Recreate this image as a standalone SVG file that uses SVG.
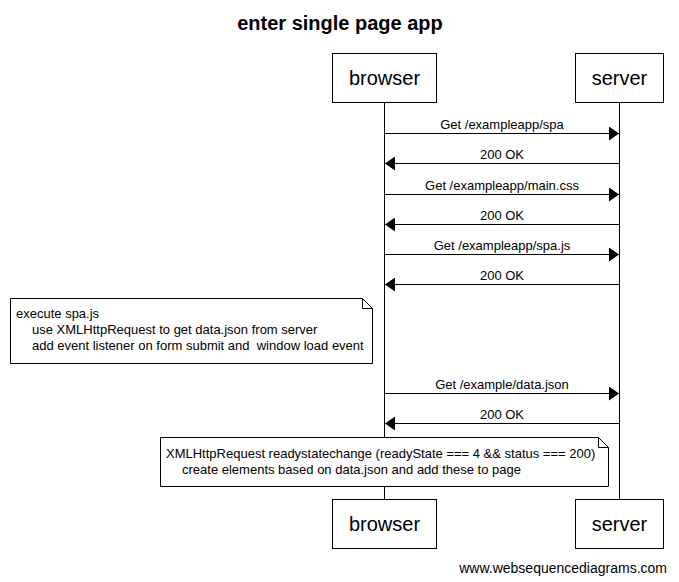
<svg xmlns="http://www.w3.org/2000/svg" width="679" height="582" viewBox="0 0 679 582">
<style>
text{font-family:"Liberation Sans",Arial,sans-serif;fill:#000;white-space:pre}
.title{font-size:20px;font-weight:bold;text-anchor:middle}
.part{font-size:20px;text-anchor:middle}
.msg{font-size:13px;text-anchor:middle}
.note{font-size:13px}
.box{fill:#fff;stroke:#000;stroke-width:1}
.life{stroke:#000;stroke-width:1}
.arr{stroke:#000;stroke-width:1;fill:none}
.wm{font-size:14px;text-anchor:end}
</style>
<defs>
<marker id="ah" viewBox="0 0 10 14" refX="10" refY="7" markerWidth="10" markerHeight="14" markerUnits="userSpaceOnUse" orient="auto">
<path d="M0,0 L10,7 L0,14 Z" fill="#000"/>
</marker>
</defs>
<rect width="679" height="582" fill="#fff"/>
<text class="title" x="340" y="30">enter single page app</text>
<g id="lifelines">
<line class="life" x1="384.5" y1="102" x2="384.5" y2="499"/>
<line class="life" x1="619.5" y1="102" x2="619.5" y2="499"/>
</g>
<g id="browser-top"><rect class="box" x="332.5" y="53.5" width="104" height="49"/><text class="part" x="384.5" y="85">browser</text></g>
<g id="server-top"><rect class="box" x="575.5" y="53.5" width="88" height="49"/><text class="part" x="619.5" y="85">server</text></g>
<g id="browser-bottom"><rect class="box" x="332.5" y="499.5" width="104" height="49"/><text class="part" x="384.5" y="531">browser</text></g>
<g id="server-bottom"><rect class="box" x="575.5" y="499.5" width="88" height="49"/><text class="part" x="619.5" y="531">server</text></g>
<g id="connectors">
<line class="arr" x1="384.5" y1="133.5" x2="619" y2="133.5" marker-end="url(#ah)"/>
<text class="msg" x="502" y="129">Get /exampleapp/spa</text>
<line class="arr" x1="619.5" y1="163.5" x2="385" y2="163.5" marker-end="url(#ah)"/>
<text class="msg" x="502" y="159">200 OK</text>
<line class="arr" x1="384.5" y1="194.5" x2="619" y2="194.5" marker-end="url(#ah)"/>
<text class="msg" x="502" y="190">Get /exampleapp/main.css</text>
<line class="arr" x1="619.5" y1="224.5" x2="385" y2="224.5" marker-end="url(#ah)"/>
<text class="msg" x="502" y="220">200 OK</text>
<line class="arr" x1="384.5" y1="254.5" x2="619" y2="254.5" marker-end="url(#ah)"/>
<text class="msg" x="502" y="250">Get /exampleapp/spa.js</text>
<line class="arr" x1="619.5" y1="284.5" x2="385" y2="284.5" marker-end="url(#ah)"/>
<text class="msg" x="502" y="280">200 OK</text>
<line class="arr" x1="384.5" y1="393.5" x2="619" y2="393.5" marker-end="url(#ah)"/>
<text class="msg" x="502" y="389">Get /example/data.json</text>
<line class="arr" x1="619.5" y1="423.5" x2="385" y2="423.5" marker-end="url(#ah)"/>
<text class="msg" x="502" y="419">200 OK</text>
</g>
<g id="note1">
<path class="box" d="M10.5,298.5 H362.5 L372.5,308.5 V363.5 H10.5 Z"/>
<path class="arr" d="M362.5,298.5 V308.5 H372.5"/>
<text class="note" x="16" y="318">execute spa.js</text>
<text class="note" x="32" y="334">use XMLHttpRequest to get data.json from server</text>
<text class="note" x="32" y="350">add event listener on form submit and  window load event</text>
</g>
<g id="note2">
<path class="box" d="M160.5,437.5 H598.5 L608.5,447.5 V486.5 H160.5 Z"/>
<path class="arr" d="M598.5,437.5 V447.5 H608.5"/>
<text class="note" x="166" y="458">XMLHttpRequest readystatechange (readyState === 4 &amp;&amp; status === 200)</text>
<text class="note" x="182" y="474">create elements based on data.json and add these to page</text>
</g>
<text class="wm" x="667" y="573">www.websequencediagrams.com</text>
</svg>
